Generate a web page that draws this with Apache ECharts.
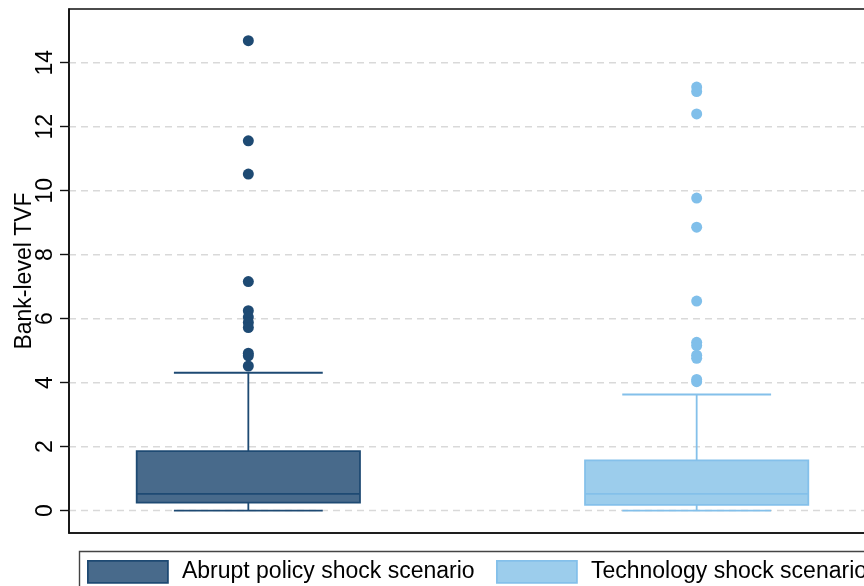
<!DOCTYPE html>
<html>
<head>
<meta charset="utf-8">
<script src="https://cdn.jsdelivr.net/npm/echarts@6/dist/echarts.min.js"></script>
<style>
  html, body { margin: 0; padding: 0; background: #fff; }
  #main { width: 864px; height: 586px; }
</style>
</head>
<body>
<div id="main"></div>
<script>
// x slots on a category axis (boxes sit on slots 2 and 7)
var slots = ['', '', '', '', '', '', '', '', '', ''];
var scenarios = ['Abrupt policy shock scenario', 'Technology shock scenario'];
var slotOf = [2, 7];

// box stats: min, Q1, median, Q3, upper whisker
var policyBox = [0, 0.25, 0.52, 1.86, 4.31];
var techBox = [0, 0.18, 0.52, 1.57, 3.63];

// outliers
var policyOut = [14.69, 11.56, 10.52, 7.16, 6.25, 6.05, 5.88, 5.72, 4.92, 4.84, 4.52];
var techOut = [13.24, 13.1, 12.4, 9.77, 8.86, 6.55, 5.26, 5.16, 4.86, 4.76, 4.1, 4.03];

var yTicks = [0, 2, 4, 6, 8, 10, 12, 14];

var fills = ['#486a8b', '#9ccdec'];
var lines = ['#1e4a73', '#84c0ea'];

function renderBox(params, api) {
  var x = api.value(0);
  var step = api.size([1, 0])[0];
  var half = step * 1.245;
  var cap = step * 0.83;
  var pMin = api.coord([x, api.value(1)]);
  var pQ1 = api.coord([x, api.value(2)]);
  var pMed = api.coord([x, api.value(3)]);
  var pQ3 = api.coord([x, api.value(4)]);
  var pMax = api.coord([x, api.value(5)]);
  var idx = params.seriesIndex - 1;
  var ls = { stroke: lines[idx], lineWidth: 1.8 };
  return {
    type: 'group',
    children: [
      { type: 'line', shape: { x1: pMin[0] - cap, y1: pMin[1], x2: pMin[0] + cap, y2: pMin[1] }, style: ls },
      { type: 'line', shape: { x1: pMin[0], y1: pMin[1], x2: pQ1[0], y2: pQ1[1] }, style: ls },
      { type: 'line', shape: { x1: pQ3[0], y1: pQ3[1], x2: pMax[0], y2: pMax[1] }, style: ls },
      { type: 'line', shape: { x1: pMax[0] - cap, y1: pMax[1], x2: pMax[0] + cap, y2: pMax[1] }, style: ls },
      { type: 'rect', shape: { x: pQ3[0] - half, y: pQ3[1], width: half * 2, height: pQ1[1] - pQ3[1] },
        style: { fill: fills[idx], stroke: lines[idx], lineWidth: 1.8 } },
      { type: 'line', shape: { x1: pMed[0] - half, y1: pMed[1], x2: pMed[0] + half, y2: pMed[1] }, style: ls }
    ]
  };
}

// dashed horizontal grid lines at the tick values
function renderGrid(params, api) {
  var cs = params.coordSys;
  var y = api.coord([0, api.value(0)])[1];
  return {
    type: 'line',
    shape: { x1: cs.x, y1: y, x2: cs.x + cs.width, y2: y },
    style: { stroke: '#d9d9d9', lineWidth: 1.5, lineDash: [7, 5] }
  };
}

function outPoints(slot, vals) {
  return vals.map(function (v) { return [slot, v]; });
}

var chart = echarts.init(document.getElementById('main'));

var legendBase = {
  top: 560, padding: 0, itemWidth: 80, itemHeight: 22,
  textStyle: { fontSize: 23, color: '#000', padding: [0, 0, 0, 9] }
};

chart.setOption({
  animation: false,
  backgroundColor: '#fff',
  textStyle: { fontFamily: 'Arial, "Liberation Sans", sans-serif' },
  grid: {
    left: 69, top: 9, right: -12, bottom: 53,
    outerBoundsMode: 'none', containLabel: false,
    show: true, borderColor: '#111', borderWidth: 1.6, backgroundColor: 'transparent'
  },
  legend: [
    Object.assign({}, legendBase, {
      left: 87,
      data: [{ name: scenarios[0], icon: 'rect', itemStyle: { color: fills[0], borderColor: lines[0], borderWidth: 1.8 } }]
    }),
    Object.assign({}, legendBase, {
      left: 496,
      data: [{ name: scenarios[1], icon: 'rect', itemStyle: { color: fills[1], borderColor: lines[1], borderWidth: 1.8 } }]
    })
  ],
  graphic: [{
    type: 'rect', left: 77, top: 549,
    shape: { width: 900, height: 80 },
    style: { fill: 'none', stroke: '#444', lineWidth: 1.4 }
  }],
  xAxis: {
    type: 'category', data: slots, boundaryGap: false,
    axisLine: { show: true, onZero: false, lineStyle: { color: '#111', width: 1.6 } },
    axisTick: { show: false }, axisLabel: { show: false }, splitLine: { show: false }
  },
  yAxis: {
    type: 'value', min: -0.7, max: 15.68,
    name: 'Bank-level TVF', nameLocation: 'middle', nameRotate: 90, nameGap: 33,
    nameMoveOverlap: false,
    nameTextStyle: { fontSize: 23, color: '#000' },
    axisLine: { show: true, lineStyle: { color: '#111', width: 1.6 } },
    axisTick: { show: true, length: 9, customValues: yTicks, lineStyle: { color: '#111', width: 1.4 } },
    axisLabel: { customValues: yTicks, rotate: 90, margin: 12, fontSize: 23, color: '#000' },
    splitLine: { show: false }
  },
  series: [
    {
      type: 'custom', z: 0, silent: true,
      encode: { y: 0 },
      renderItem: renderGrid,
      data: yTicks.map(function (t) { return [t]; })
    },
    {
      name: scenarios[0], type: 'custom', z: 2,
      itemStyle: { color: fills[0], borderColor: lines[0] },
      encode: { x: 0, y: [1, 2, 3, 4, 5] },
      renderItem: renderBox,
      data: [[slotOf[0]].concat(policyBox)]
    },
    {
      name: scenarios[1], type: 'custom', z: 2,
      itemStyle: { color: fills[1], borderColor: lines[1] },
      encode: { x: 0, y: [1, 2, 3, 4, 5] },
      renderItem: renderBox,
      data: [[slotOf[1]].concat(techBox)]
    },
    {
      type: 'scatter', z: 3, symbol: 'circle', symbolSize: 11,
      itemStyle: { color: lines[0], opacity: 1 },
      data: outPoints(slotOf[0], policyOut)
    },
    {
      type: 'scatter', z: 3, symbol: 'circle', symbolSize: 11,
      itemStyle: { color: '#80bfea', opacity: 1 },
      data: outPoints(slotOf[1], techOut)
    }
  ]
});
</script>
</body>
</html>
